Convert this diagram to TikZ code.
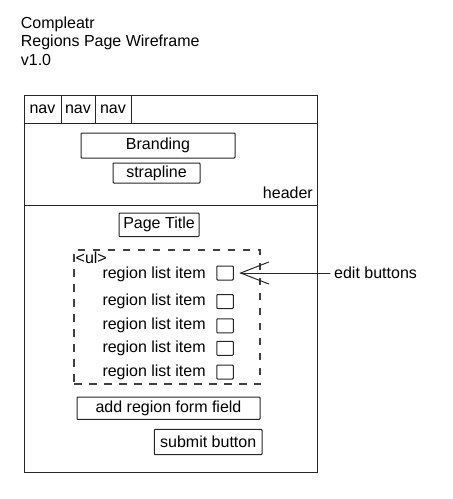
\documentclass[tikz,border=0pt]{standalone}
\usepackage{fontspec}
\setmainfont{Liberation Sans}
\tikzset{
  lbl/.style={inner sep=0pt, font=\fontsize{16}{19}\selectfont},
  box/.style={draw=black!85, line width=1pt, rounded corners=0.8pt, inner sep=0pt, font=\fontsize{16}{19}\selectfont},
  cbox/.style={box, minimum width=16.5pt, minimum height=14pt},
  ulbox/.style={draw=black!75, line width=1.3pt, dash pattern=on 7.5pt off 7.5pt},
  conn/.style={draw=black!85, line width=1pt, line cap=round}
}
\begin{document}
\begin{tikzpicture}[x=1pt,y=-1pt]
\useasboundingbox (0,0) rectangle (453,499);
% title
\node[lbl, anchor=base west] (t1) at (20.7,28.3) {Compleatr};
\node[lbl, anchor=base west] (t2) at (20.7,46.7) {Regions Page Wireframe};
\node[lbl, anchor=base west] (t3) at (20.7,65) {v1.0};
% outer frame
\node[box, rounded corners=0pt, minimum width=293pt, minimum height=377pt] (frame) at (170.5,283.5) {};
% nav
\node[box, rounded corners=0pt, minimum width=37pt, minimum height=28pt] (nav1) at (42.5,109) {nav};
\node[box, rounded corners=0pt, minimum width=34pt, minimum height=28pt] (nav2) at (78,109) {nav};
\node[box, rounded corners=0pt, minimum width=36pt, minimum height=28pt] (nav3) at (113,109) {nav};
\draw[draw=black!85, line width=1pt] (frame.west |- nav1.south) -- (frame.east |- nav1.south);
% header
\coordinate (hl) at (24,205);
\draw[draw=black!85, line width=1pt] (hl) -- (hl -| frame.east);
\node[box, minimum width=154pt, minimum height=25pt] (brand) at (158,145.5) {Branding};
\node[box, minimum width=87pt, minimum height=20pt] (strap) at (156.5,173) {strapline};
\node[lbl, anchor=base east] (hdr) at (313,198) {header};
% page title
\node[box, minimum width=80pt, minimum height=23.5pt] (ptitle) at (159,224.8) {Page Title};
% ul
\node[ulbox, minimum width=186pt, minimum height=134pt, inner sep=0pt] (ul) at (167,317) {};
\node[lbl, anchor=base west] (ultxt) at (75.5,263.5) {<ul>};
\node[lbl, anchor=west] (li1) at (102.3,274) {region list item};
\node[lbl, anchor=west] (li2) at (102.3,301) {region list item};
\node[lbl, anchor=west] (li3) at (102.3,325.5) {region list item};
\node[lbl, anchor=west] (li4) at (102.3,348.5) {region list item};
\node[lbl, anchor=west] (li5) at (102.3,372) {region list item};
\node[cbox] (cb1) at (225,273) {};
\node[cbox] (cb2) at (225,301.5) {};
\node[cbox] (cb3) at (225,325.8) {};
\node[cbox] (cb4) at (225,348.3) {};
\node[cbox] (cb5) at (225,372) {};
% edit buttons
\node[lbl, anchor=west] (edit) at (334,273) {edit buttons};
\coordinate (tip) at ([xshift=7pt]cb1.east);
\draw[conn, shorten <=4pt] (edit.west) -- (tip);
\draw[conn] ([shift={(28,-11)}]tip) -- (tip) -- ([shift={(28,11)}]tip);
% form
\node[box, minimum width=183pt, minimum height=22.3pt] (field) at (168.5,408.2) {add region form field};
\node[box, minimum width=107.7pt, minimum height=25.4pt] (submit) at (208.2,442) {submit button};
\end{tikzpicture}
\end{document}
